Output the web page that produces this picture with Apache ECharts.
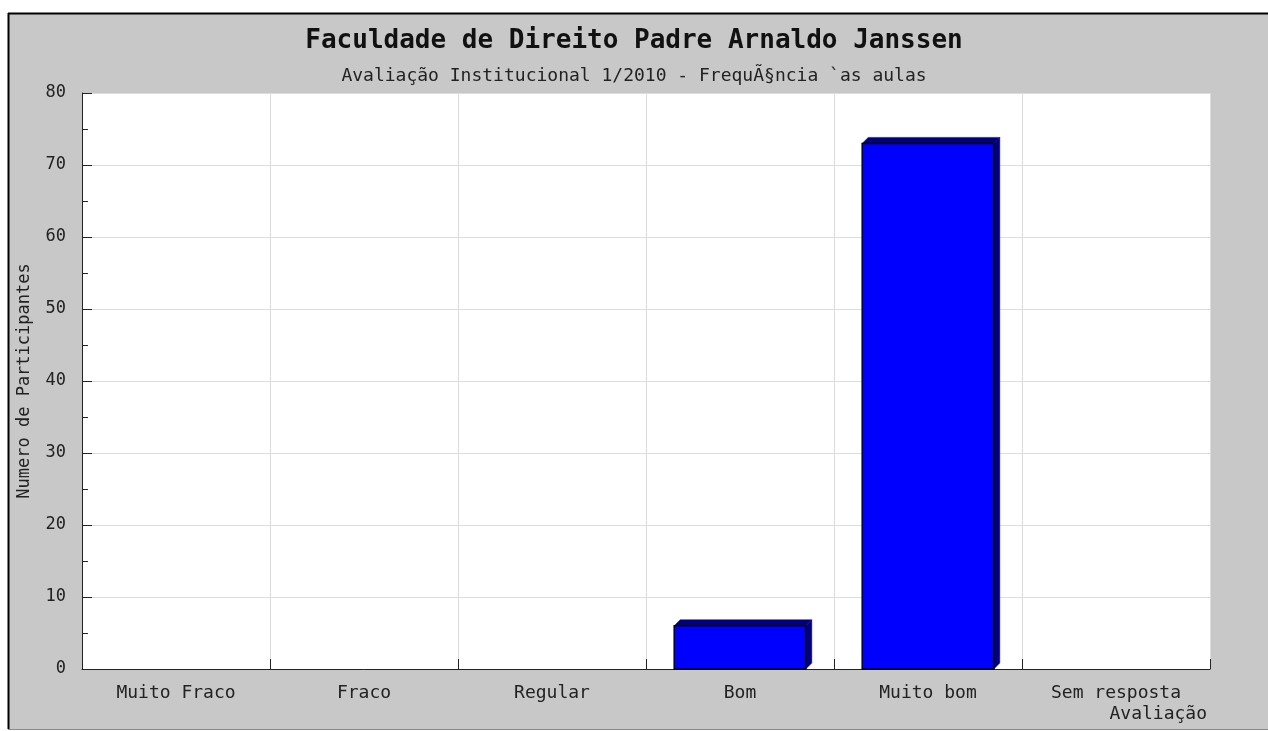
<!DOCTYPE html>
<html>
<head>
<meta charset="utf-8">
<script src="https://cdn.jsdelivr.net/npm/echarts@6/dist/echarts.min.js"></script>
<style>
html,body{margin:0;padding:0;background:#fff;}
#chart{width:1268px;height:731px;}
</style>
</head>
<body>
<div id="chart"></div>
<script>
const titleText = 'Faculdade de Direito Padre Arnaldo Janssen';
const subtitleText = 'Avaliação Institucional 1/2010 - FrequÃ§ncia `as aulas';
const categories = ['Muito Fraco', 'Fraco', 'Regular', 'Bom', 'Muito bom', 'Sem resposta'];
const values = [0, 0, 0, 6, 73, 0];
const yAxisName = 'Numero de Participantes';
const xAxisName = 'Avaliação';

const FONT = '"DejaVu Sans Mono", "Liberation Mono", monospace';
const chart = echarts.init(document.getElementById('chart'), null, {renderer: 'canvas'});

const option = {
  backgroundColor: '#ffffff',
  animation: false,
  graphic: [
    {type: 'rect', z: -10, shape: {x: 8, y: 13, width: 1260, height: 716}, style: {fill: '#c8c8c8'}, silent: true},
    {type: 'line', z: 100, shape: {x1: 8, y1: 13.5, x2: 1268, y2: 13.5}, style: {stroke: '#000', lineWidth: 2}},
    {type: 'line', z: 100, shape: {x1: 8.5, y1: 13, x2: 8.5, y2: 729}, style: {stroke: '#000', lineWidth: 2}},
    {type: 'line', z: 100, shape: {x1: 8, y1: 729.5, x2: 1268, y2: 729.5}, style: {stroke: '#8a8a8a', lineWidth: 1}}
  ],
  title: [
    {text: titleText, left: 'center', top: 23,
     textStyle: {fontFamily: FONT, fontSize: 26, fontWeight: 'bold', color: '#111'}},
    {text: subtitleText, left: 'center', top: 62,
     textStyle: {fontFamily: FONT, fontSize: 18, fontWeight: 'normal', color: '#222'}}
  ],
  grid: {left: 82, top: 93, right: 58, bottom: 62, show: true, backgroundColor: '#ffffff', borderWidth: 0, containLabel: false},
  xAxis: {
    type: 'category',
    data: categories,
    boundaryGap: true,
    name: xAxisName,
    nameLocation: 'end',
    nameGap: 0,
    nameTextStyle: {fontFamily: FONT, fontSize: 18, color: '#222', align: 'right', verticalAlign: 'top', padding: [36, 3, 0, 0]},
    axisLine: {show: true, lineStyle: {color: '#222', width: 1}},
    axisTick: {show: true, inside: true, length: 10, interval: 0, alignWithLabel: false, lineStyle: {color: '#222'}},
    axisLabel: {interval: 0, margin: 15, fontFamily: FONT, fontSize: 18, color: '#222'},
    splitLine: {show: true, interval: 0, lineStyle: {color: '#dcdcdc', width: 1}}
  },
  yAxis: {
    type: 'value',
    min: 0, max: 80, interval: 10,
    name: yAxisName,
    nameLocation: 'middle',
    nameRotate: 90,
    nameGap: 49,
    nameTextStyle: {fontFamily: FONT, fontSize: 17, color: '#222'},
    axisLine: {show: true, lineStyle: {color: '#222', width: 1}},
    axisTick: {show: true, inside: true, length: 10, lineStyle: {color: '#222'}},
    minorTick: {show: true, splitNumber: 2, length: 6, lineStyle: {color: '#222'}},
    axisLabel: {margin: 16, fontFamily: FONT, fontSize: 17, color: '#222'},
    splitLine: {show: true, lineStyle: {color: '#dcdcdc', width: 1}}
  },
  series: [{
    type: 'custom',
    data: values.map((v, i) => [i, v]),
    renderItem: function (params, api) {
      const v = api.value(1);
      if (!v) return null;
      const topPt = api.coord([api.value(0), v]);
      const basePt = api.coord([api.value(0), 0]);
      const band = api.size([1, 0])[0];
      const w = band * 0.7;
      const d = 6;
      const l = topPt[0] - w / 2;
      const r = l + w;
      const t = topPt[1];
      const b = basePt[1];
      return {
        type: 'group',
        children: [
          {type: 'polygon', shape: {points: [[l, t], [l + d, t - d], [r + d, t - d], [r, t]]},
           style: {fill: '#000080', stroke: '#000080', lineWidth: 0.5}},
          {type: 'polygon', shape: {points: [[r, t], [r + d, t - d], [r + d, b - d], [r, b]]},
           style: {fill: '#000080', stroke: '#000080', lineWidth: 0.5}},
          {type: 'rect', shape: {x: l, y: t, width: w, height: b - t},
           style: {fill: '#0000ff', stroke: '#000000', lineWidth: 1.5}}
        ]
      };
    }
  }]
};
chart.setOption(option);
</script>
</body>
</html>
